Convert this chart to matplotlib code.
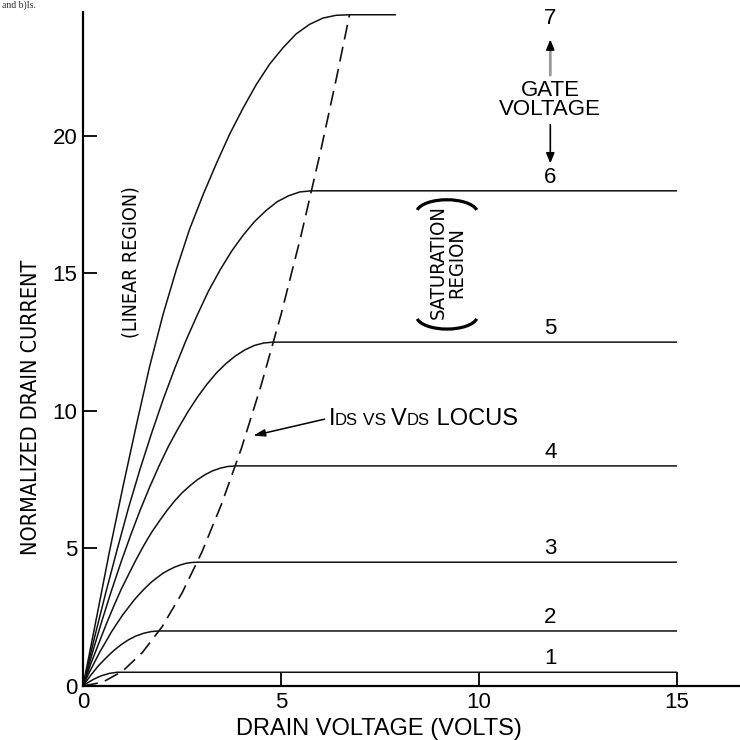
import matplotlib
matplotlib.use("Agg")
import matplotlib.pyplot as plt
from matplotlib import font_manager as fm
from matplotlib.patches import Arc
from matplotlib.offsetbox import TextArea, HPacker, AnnotationBbox

# ---- data -------------------------------------------------------------
gate_labels = ["1", "2", "3", "4", "5", "6", "7"]

# drain voltage / normalized drain current along the rising part of each curve
v1 = [0, 0.10, 0.19, 0.29, 0.38, 0.48, 0.58, 0.67, 0.77, 0.86, 0.96]
i1 = [0, 0.10, 0.18, 0.26, 0.32, 0.38, 0.42, 0.46, 0.48, 0.50, 0.50]
v2 = [0, 0.19, 0.38, 0.58, 0.77, 0.96, 1.15, 1.34, 1.54, 1.73, 1.92]
i2 = [0, 0.38, 0.72, 1.02, 1.28, 1.50, 1.68, 1.82, 1.92, 1.98, 2.00]
v3 = [0, 0.14, 0.29, 0.43, 0.58, 0.72, 0.87, 1.01, 1.16, 1.30, 1.45,
      1.59, 1.73, 1.88, 2.02, 2.17, 2.31, 2.46, 2.60, 2.75, 2.89]
i3 = [0, 0.44, 0.86, 1.25, 1.62, 1.97, 2.30, 2.60, 2.88, 3.14, 3.38,
      3.59, 3.78, 3.95, 4.10, 4.22, 4.32, 4.40, 4.46, 4.49, 4.50]
v4 = [0, 0.19, 0.39, 0.58, 0.77, 0.96, 1.16, 1.35, 1.54, 1.73, 1.93,
      2.12, 2.31, 2.50, 2.70, 2.89, 3.08, 3.27, 3.47, 3.66, 3.85]
i4 = [0, 0.78, 1.52, 2.22, 2.88, 3.50, 4.08, 4.62, 5.12, 5.58, 6.00,
      6.38, 6.72, 7.02, 7.28, 7.50, 7.68, 7.82, 7.92, 7.98, 8.00]
v5 = [0, 0.24, 0.48, 0.72, 0.96, 1.20, 1.44, 1.68, 1.92, 2.16, 2.41,
      2.65, 2.89, 3.13, 3.37, 3.61, 3.85, 4.09, 4.33, 4.57, 4.81]
i5 = [0, 1.22, 2.38, 3.47, 4.50, 5.47, 6.38, 7.22, 8.00, 8.72, 9.38,
      9.97, 10.50, 10.97, 11.38, 11.72, 12.00, 12.22, 12.38, 12.47, 12.50]
v6 = [0, 0.29, 0.58, 0.87, 1.15, 1.44, 1.73, 2.02, 2.31, 2.60, 2.89,
      3.17, 3.46, 3.75, 4.04, 4.33, 4.62, 4.90, 5.19, 5.48, 5.77]
i6 = [0, 1.76, 3.42, 5.00, 6.48, 7.88, 9.18, 10.40, 11.52, 12.56, 13.50,
      14.36, 15.12, 15.80, 16.38, 16.88, 17.28, 17.60, 17.82, 17.96, 18.00]
v7 = [0, 0.34, 0.67, 1.01, 1.35, 1.68, 2.02, 2.36, 2.69, 3.03, 3.37,
      3.70, 4.04, 4.37, 4.71, 5.05, 5.38, 5.72, 6.06, 6.39, 6.73]
i7 = [0, 2.47, 4.90, 7.25, 9.50, 11.60, 13.50, 15.15, 16.60, 17.85, 19.00,
      20.05, 21.00, 21.85, 22.60, 23.20, 23.70, 24.05, 24.28, 24.38, 24.40]

# saturated (flat) current level and where each flat section ends
sat_current = [0.5, 2.0, 4.5, 8.0, 12.5, 18.0, 24.4]
flat_end = [15, 15, 15, 15, 15, 15, 7.9]

# dashed Ids-vs-Vds locus
locus_v = [0, 0.5, 1.0, 1.5, 2.0, 2.5, 3.0, 3.5, 4.0, 4.5, 5.0, 5.5, 6.0, 6.4, 6.73]
locus_i = [0, 0.14, 0.54, 1.22, 2.16, 3.38, 4.86, 6.62, 8.64, 10.94, 13.50,
           16.34, 19.44, 22.1, 24.4]

x_ticks = [0, 5, 10, 15]
y_ticks = [0, 5, 10, 15, 20]

curves_v = [v1, v2, v3, v4, v5, v6, v7]
curves_i = [i1, i2, i3, i4, i5, i6, i7]

# ---- fonts ------------------------------------------------------------
names = {f.name for f in fm.fontManager.ttflist}
SANS = "Liberation Sans"
if "Liberation Sans Narrow" in names:
    NARROW = dict(family="Liberation Sans Narrow")
else:
    NARROW = dict(family="DejaVu Sans", fontstretch="condensed")
plt.rcParams["font.family"] = SANS

# ---- figure -----------------------------------------------------------
fig = plt.figure(figsize=(7.4, 7.4), dpi=100)
ax = fig.add_axes([83 / 740, 54 / 740, 657 / 740, 674 / 740])
ax.set_xlim(0, 16.59)
ax.set_ylim(0, 24.5)

for s in ("top", "right"):
    ax.spines[s].set_visible(False)
for s in ("left", "bottom"):
    ax.spines[s].set_linewidth(1.6)
    ax.spines[s].set_color("black")

ax.set_xticks(x_ticks)
ax.set_yticks(y_ticks)
ax.tick_params(direction="in", length=10, width=1.3, labelsize=16, pad=4)
ax.set_xticklabels([str(t) for t in x_ticks])
ax.set_yticklabels([str(t) for t in y_ticks])

ax.set_xlabel("DRAIN VOLTAGE (VOLTS)", fontsize=17)
ax.xaxis.set_label_coords(0.45, -0.048)
ax.set_ylabel("NORMALIZED DRAIN CURRENT", fontsize=15.5, **NARROW)
ax.yaxis.set_label_coords(-0.064, 0.413)

# characteristic curves
for vv, ii, isat, vend in zip(curves_v, curves_i, sat_current, flat_end):
    ax.plot(list(vv) + [vend], list(ii) + [isat], color="#111111", lw=1.1,
            solid_capstyle="butt", solid_joinstyle="round", clip_on=False)

# locus
ax.plot(locus_v, locus_i, color="#111111", lw=1.2, dashes=[9, 4.5], clip_on=False)

# gate labels on the flat sections
label_x = 11.8
for lab, isat in zip(gate_labels[:6], sat_current[:6]):
    ax.annotate(lab, (label_x, isat), xytext=(0, 2), textcoords="offset points",
                ha="center", va="bottom", fontsize=16)
ax.text(label_x, 24.25, gate_labels[6], ha="center", va="center", fontsize=16)

# gate voltage indicator
ax.text(label_x, 21.3, "GATE\nVOLTAGE", ha="center", va="center",
        fontsize=16, linespacing=0.9)
ax.annotate("", xy=(label_x, 23.2), xytext=(label_x, 22.1),
            arrowprops=dict(arrowstyle="-", color="#9a9a9a", lw=2.0))
ax.annotate("", xy=(label_x, 23.6), xytext=(label_x, 23.0),
            arrowprops=dict(arrowstyle="-|>,head_length=0.6,head_width=0.25",
                            color="black", lw=1.2))
ax.annotate("", xy=(label_x, 18.9), xytext=(label_x, 20.5),
            arrowprops=dict(arrowstyle="-|>,head_length=0.6,head_width=0.25",
                            color="black", lw=1.2))

# region labels
ax.text(1.2, 15.4, "(LINEAR REGION)", rotation=90, ha="center", va="center",
        fontsize=14, **NARROW)
ax.text(9.2, 15.4, "SATURATION\nREGION", rotation=90, ha="center", va="center",
        fontsize=14.5, linespacing=0.95, **NARROW)
ax.add_patch(Arc((9.19, 17.2), 1.54, 0.95, theta1=8, theta2=172,
                 lw=2.3, color="black", clip_on=False))
ax.add_patch(Arc((9.19, 13.45), 1.54, 0.95, theta1=188, theta2=352,
                 lw=2.3, color="black", clip_on=False))

# locus label with small-cap subscripts
big, small = 17, 12
parts = [("I", big), ("DS", small), (" VS ", small + 0.5), ("V", big),
         ("DS", small), (" LOCUS", big)]
boxes = [TextArea(t, textprops=dict(fontsize=f, family=SANS, color="black"))
         for t, f in parts]
pack = HPacker(children=boxes, align="baseline", pad=0, sep=0)
ab = AnnotationBbox(pack, (6.2, 9.7), xycoords="data", box_alignment=(0, 0.5),
                    frameon=False, pad=0)
ax.add_artist(ab)
ax.annotate("", xy=(4.3, 9.1), xytext=(6.1, 9.7),
            arrowprops=dict(arrowstyle="-|>,head_length=0.7,head_width=0.22",
                            color="black", lw=1.1, shrinkA=0, shrinkB=0))

# clipped caption fragment in the corner
fig.text(0.003, 0.999, "and b)Is.", ha="left", va="top", fontsize=7,
         family="Liberation Serif", color="#333333")

fig.savefig("out.png", dpi=100)
